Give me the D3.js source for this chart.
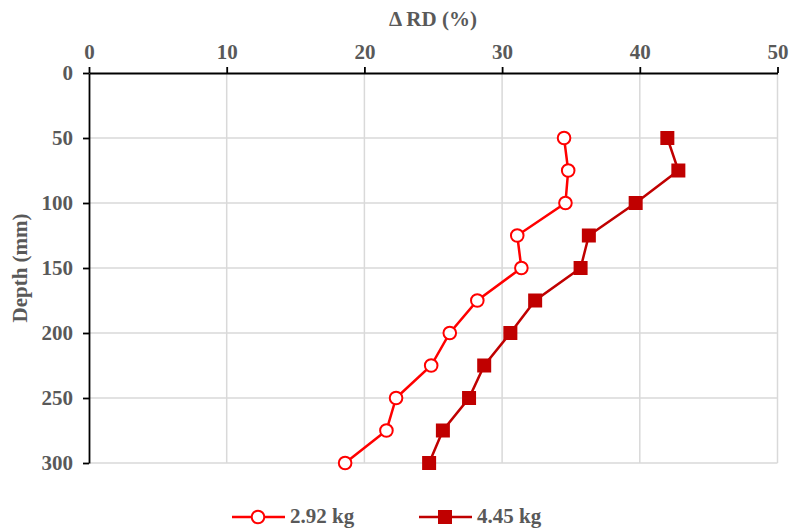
<!DOCTYPE html>
<html>
<head>
<meta charset="utf-8">
<script src="https://cdn.jsdelivr.net/npm/d3@7"></script>
<style>
  body { margin: 0; background: #fff; }
  text { font-family: "Liberation Serif", "Times New Roman", serif; font-weight: bold; fill: #595959; }
</style>
</head>
<body>
<svg id="canvas" width="790" height="529"></svg>
<script>
var depths = [50, 75, 100, 125, 150, 175, 200, 225, 250, 275, 300];
var rd292 = [34.5, 34.8, 34.6, 31.1, 31.4, 28.2, 26.2, 24.85, 22.3, 21.6, 18.6];
var rd445 = [42.0, 42.8, 39.7, 36.3, 35.7, 32.4, 30.6, 28.7, 27.6, 25.7, 24.7];
var xTicks = [0, 10, 20, 30, 40, 50];
var yTicks = [0, 50, 100, 150, 200, 250, 300];
var seriesNames = ["2.92 kg", "4.45 kg"];

var margins = { left: 89, right: 12, top: 73, bottom: 66 };
var width = 790, height = 529;
var fontSize = "21px";
var canvas = d3.select("#canvas");

var x = d3.scaleLinear().domain([0, 50]).range([margins.left, 777.5]);
var y = d3.scaleLinear().domain([0, 300]).range([margins.top, 463]);

// gridlines
canvas.append("g")
  .selectAll("line")
  .data(xTicks.slice(1))
  .enter()
  .append("line")
  .attr("x1", function(d) { return x(d); })
  .attr("x2", function(d) { return x(d); })
  .attr("y1", y(0))
  .attr("y2", y(300))
  .attr("stroke", "#d9d9d9")
  .attr("stroke-width", 1.5);
canvas.append("g")
  .selectAll("line")
  .data(yTicks.slice(1))
  .enter()
  .append("line")
  .attr("x1", x(0))
  .attr("x2", x(50))
  .attr("y1", function(d) { return y(d); })
  .attr("y2", function(d) { return y(d); })
  .attr("stroke", "#d9d9d9")
  .attr("stroke-width", 1.5);

// axes
var xAxis = canvas.append("g")
  .attr("transform", "translate(0," + y(0) + ")")
  .call(d3.axisTop(x).tickValues(xTicks).tickSize(6).tickSizeOuter(0).tickPadding(8));
var yAxis = canvas.append("g")
  .attr("transform", "translate(" + x(0) + ",0)")
  .call(d3.axisLeft(y).tickValues(yTicks).tickSize(6).tickSizeOuter(0).tickPadding(10));
[xAxis, yAxis].forEach(function(a) {
  a.select(".domain").attr("stroke", "#000").attr("stroke-width", 1.8);
  a.selectAll(".tick line").attr("stroke", "#000").attr("stroke-width", 1.8);
  a.selectAll(".tick text").attr("fill", "#595959").style("font-size", fontSize).style("font-family", "'Liberation Serif', serif").style("font-weight", "bold");
});

// axis titles
canvas.append("text")
  .attr("x", 433).attr("y", 26)
  .attr("text-anchor", "middle")
  .style("font-size", fontSize)
  .text("Δ RD (%)");
canvas.append("g")
  .attr("transform", "translate(27,268) rotate(-90)")
  .append("text")
  .attr("text-anchor", "middle")
  .style("font-size", fontSize)
  .text("Depth (mm)");

var line = d3.line()
  .x(function(d) { return x(d[1]); })
  .y(function(d) { return y(d[0]); });

var s1 = d3.zip(depths, rd292);
var s2 = d3.zip(depths, rd445);

canvas.append("path").datum(s2).attr("d", line)
  .attr("fill", "none").attr("stroke", "#c00000").attr("stroke-width", 2.5);
canvas.append("path").datum(s1).attr("d", line)
  .attr("fill", "none").attr("stroke", "#ff0000").attr("stroke-width", 2.5);

canvas.append("g").selectAll("rect")
  .data(s2).enter().append("rect")
  .attr("x", function(d) { return x(d[1]) - 7; })
  .attr("y", function(d) { return y(d[0]) - 7; })
  .attr("width", 14).attr("height", 14)
  .attr("fill", "#c00000");
canvas.append("g").selectAll("circle")
  .data(s1).enter().append("circle")
  .attr("cx", function(d) { return x(d[1]); })
  .attr("cy", function(d) { return y(d[0]); })
  .attr("r", 6.3)
  .attr("fill", "#fff")
  .attr("stroke", "#ff0000")
  .attr("stroke-width", 2);

// legend
var ly = 517;
var leg1 = canvas.append("g");
leg1.append("line").attr("x1", 232).attr("x2", 285).attr("y1", ly).attr("y2", ly)
  .attr("stroke", "#ff0000").attr("stroke-width", 2.5);
leg1.append("circle").attr("cx", 258).attr("cy", ly).attr("r", 6.3)
  .attr("fill", "#fff").attr("stroke", "#ff0000").attr("stroke-width", 2);
leg1.append("text").attr("x", 290).attr("y", ly + 6).style("font-size", fontSize).text(seriesNames[0]);
var leg2 = canvas.append("g");
leg2.append("line").attr("x1", 419).attr("x2", 472).attr("y1", ly).attr("y2", ly)
  .attr("stroke", "#c00000").attr("stroke-width", 2.5);
leg2.append("rect").attr("x", 438).attr("y", ly - 7).attr("width", 14).attr("height", 14)
  .attr("fill", "#c00000");
leg2.append("text").attr("x", 477).attr("y", ly + 6).style("font-size", fontSize).text(seriesNames[1]);
</script>
</body>
</html>
